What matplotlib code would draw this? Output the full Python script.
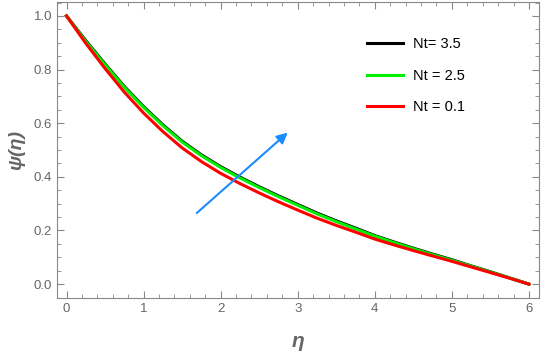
# psi(eta) curves for several Nt values
import matplotlib
matplotlib.use("Agg")
import matplotlib.pyplot as plt
from matplotlib.ticker import MultipleLocator

plt.rcParams['font.family'] = ['Liberation Sans', 'DejaVu Sans']

eta = [0, 0.25, 0.5, 0.75, 1, 1.25, 1.5, 1.75, 2, 2.25, 2.5, 2.75, 3,
       3.25, 3.5, 3.75, 4, 4.25, 4.5, 4.75, 5, 5.25, 5.5, 5.75, 6]
psi_nt35 = [1, 0.908, 0.821, 0.737, 0.662, 0.594, 0.533, 0.482, 0.438, 0.399, 0.363, 0.329, 0.297,
            0.265, 0.236, 0.209, 0.181, 0.157, 0.134, 0.112, 0.091, 0.068, 0.046, 0.023, 0]
psi_nt25 = [1, 0.905, 0.818, 0.734, 0.659, 0.591, 0.530, 0.479, 0.435, 0.396, 0.360, 0.326, 0.294,
            0.262, 0.233, 0.206, 0.179, 0.155, 0.132, 0.110, 0.089, 0.067, 0.045, 0.023, 0]
psi_nt01 = [1, 0.898, 0.804, 0.716, 0.638, 0.569, 0.508, 0.457, 0.413, 0.375, 0.340, 0.307, 0.276,
            0.246, 0.219, 0.194, 0.168, 0.146, 0.125, 0.105, 0.085, 0.064, 0.043, 0.022, 0]
labels = ['Nt= 3.5', 'Nt = 2.5', 'Nt = 0.1']

fig = plt.figure(figsize=(5.41, 3.54), dpi=100)
ax = fig.add_axes([0.1054, 0.158, 0.8909, 0.8364])

ax.plot(eta, psi_nt35, color='black', lw=2.2, label=labels[0])
ax.plot(eta, psi_nt25, color='#00ee00', lw=2.2, label=labels[1])
ax.plot(eta, psi_nt01, color='#ff0000', lw=2.2, label=labels[2])

# arrow showing increasing Nt
ax.annotate('', xy=(2.87, 0.565), xytext=(1.69, 0.265),
            arrowprops=dict(arrowstyle='-|>', color='#1a8cff', lw=1.5,
                            mutation_scale=16, shrinkA=0, shrinkB=0))

ax.set_xlim(-0.123, 6.13)
ax.set_ylim(-0.052, 1.052)
ax.xaxis.set_major_locator(MultipleLocator(1))
ax.xaxis.set_minor_locator(MultipleLocator(0.2))
ax.yaxis.set_minor_locator(MultipleLocator(0.05))
ax.set_yticks([0, 0.2, 0.4, 0.6, 0.8, 1.0])
ax.set_yticklabels(['0.0', '0.2', '0.4', '0.6', '0.8', '1.0'])

ax.tick_params(which='both', direction='in', top=True, right=True,
               color='#888888', labelcolor='#666666', labelsize=9.5)
ax.tick_params(which='major', length=5, width=0.8)
ax.tick_params(which='minor', length=3, width=0.6)
for s in ax.spines.values():
    s.set_color('#888888')

ax.set_xlabel('η', fontsize=15, style='italic', weight='bold', color='#666666', labelpad=12)
ax.set_ylabel('ψ(η)', fontsize=14, style='italic', weight='bold', color='#666666', labelpad=6)

ax.legend(loc='upper left', bbox_to_anchor=(0.615, 0.925), frameon=False,
          fontsize=10.5, handlelength=2.5, labelspacing=1.2, handletextpad=0.7)

plt.savefig('out.png', dpi=100)
